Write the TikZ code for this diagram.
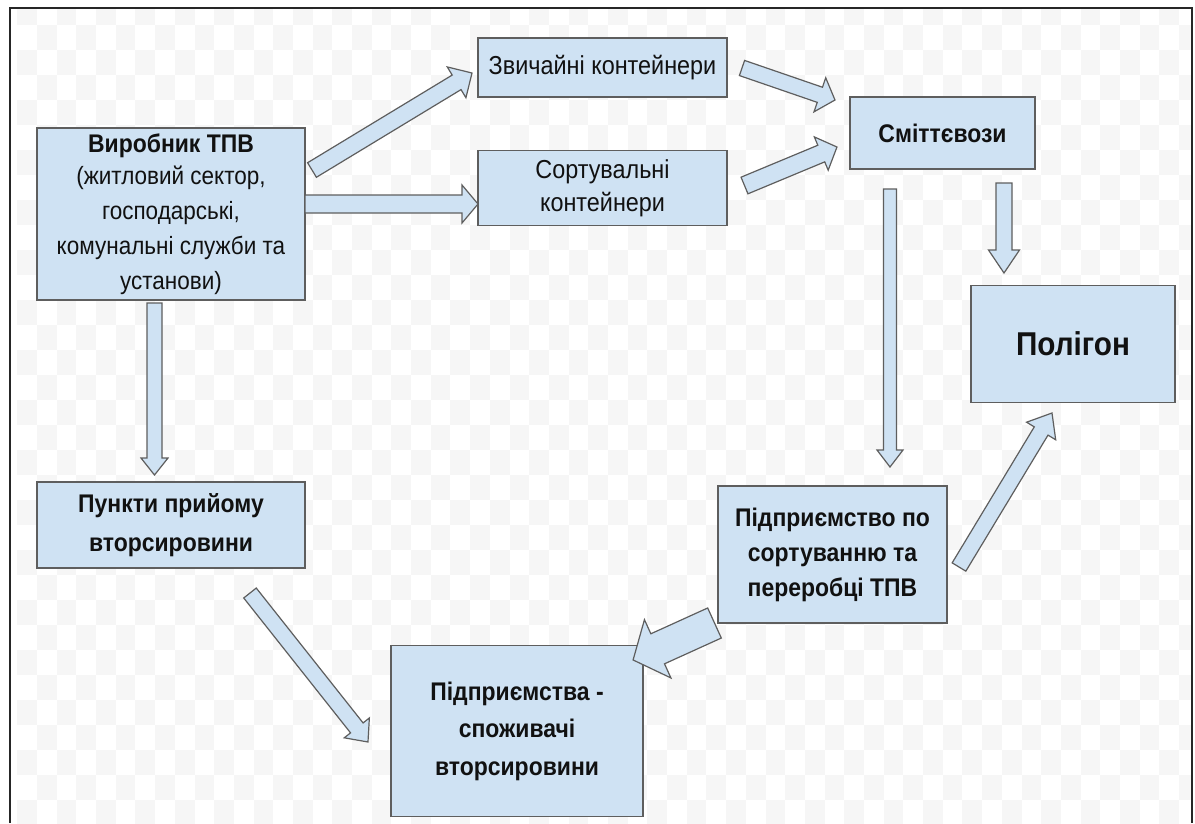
\documentclass[tikz,border=0pt]{standalone}
\usepackage{fontspec}
\setmainfont[FakeStretch=0.9]{Liberation Sans}
\usetikzlibrary{calc}
\definecolor{boxfill}{HTML}{CFE2F3}
\definecolor{boxborder}{HTML}{5E5E5E}
\definecolor{checkgray}{HTML}{F6F6F6}
\definecolor{txt}{HTML}{111111}
\tikzset{
  box/.style={draw=boxborder, fill=boxfill, line width=1.4pt, inner sep=0pt,
    align=center, text=txt},
  bold/.style={font=\fontsize{25.5}{35}\selectfont\bfseries},
  arrowsty/.style={draw=boxborder, fill=boxfill, line width=1.2pt, line join=miter},
}
% block arrow: #1 from, #2 to, #3 shaft half width, #4 head half width, #5 head length
\newcommand\blockarr[5]{%
  \path let \p1=(#1), \p2=(#2) in \pgfextra{%
    \pgfmathsetmacro\barang{atan2(\y2-\y1,\x2-\x1)}%
    \pgfmathsetmacro\barlen{veclen(\x2-\x1,\y2-\y1)}%
    \global\let\barang\barang \global\let\barlen\barlen};
  \begin{scope}[shift={(#1)},rotate=\barang]
    \draw[arrowsty] (0pt,-#3pt) -- ({\barlen pt-#5pt},-#3pt) -- ({\barlen pt-#5pt},-#4pt)
      -- (\barlen pt,0pt) -- ({\barlen pt-#5pt},#4pt) -- ({\barlen pt-#5pt},#3pt)
      -- (0pt,#3pt) -- cycle;
  \end{scope}}
\newcommand\regfont{\fontsize{25}{34}\selectfont\mdseries}
\begin{document}
\begin{tikzpicture}[x=1pt,y=-1pt]
\useasboundingbox (0,0) rectangle (1195,823);
\fill[white] (0,0) rectangle (1195,823);
% faint checkerboard background
\begin{scope}
  \clip (10,8) rectangle (1192,823);
  \foreach \i in {-1,...,60}{
    \foreach \j in {0,...,33}{
      \pgfmathtruncatemacro\chkpar{mod(\i+\j+100,2)}
      \ifnum\chkpar=1
        \fill[checkgray] ({37+19.69*\i},{25*\j}) rectangle ({37+19.69*(\i+1)},{25*(\j+1)});
      \fi
    }
  }
\end{scope}
\draw[line width=2pt, color=black!85] (10,823) -- (10,8) -- (1192,8) -- (1192,823);

% boxes
\node[box, bold, minimum width=268pt, minimum height=172pt] (vyr) at (171,214)
  {Виробник ТПВ\\[-3pt] \regfont (житловий сектор,\\ \regfont господарські,\\ \regfont комунальні служби та\\ \regfont установи)};
\node[box, minimum width=249pt, minimum height=59pt, font=\fontsize{26}{34}\selectfont] (zv) at (602.5,67.5)
  {Звичайні контейнери};
\node[box, minimum width=249pt, minimum height=75pt, font=\fontsize{26}{33}\selectfont] (sort) at (602.5,188)
  {Сортувальні\\ контейнери};
\node[box, bold, minimum width=185pt, minimum height=72pt] (smit) at (942.5,133)
  {Сміттєвози};
\node[box, minimum width=204pt, minimum height=117pt, font=\fontsize{33}{40}\selectfont\bfseries] (pol) at (1073,344)
  {Полігон};
\node[box, minimum width=268pt, minimum height=86pt, font=\fontsize{25.5}{39}\selectfont\bfseries] (punkt) at (171,525)
  {Пункти прийому\\ вторсировини};
\node[box, bold, minimum width=229pt, minimum height=137pt] (pidpr) at (832.5,554.5)
  {Підприємство по\\ сортуванню та\\ переробці ТПВ};
\node[box, minimum width=252pt, minimum height=171pt, font=\fontsize{25.5}{37.5}\selectfont\bfseries] (spoz) at (517,731)
  {Підприємства -\\ споживачі\\ вторсировини};

% arrow end points
\coordinate (a1s) at (312,170);   \coordinate (a1e) at (472,73);
\coordinate (a2s) at (305,204);   \coordinate (a2e) at (478,204);
\coordinate (a3s) at (742,68);    \coordinate (a3e) at (835,100);
\coordinate (a4s) at (744.5,185.5); \coordinate (a4e) at (837,147);
\coordinate (a5s) at (1004,183);  \coordinate (a5e) at (1004,273);
\coordinate (a6s) at (890,189);   \coordinate (a6e) at (890,467);
\coordinate (a7s) at (959,567);   \coordinate (a7e) at (1052,413);
\coordinate (a8s) at (714.5,623); \coordinate (a8e) at (633,660);
\coordinate (a9s) at (154.5,303); \coordinate (a9e) at (154.5,475);
\coordinate (a10s) at (250,593);  \coordinate (a10e) at (368,742);

\blockarr{a1s}{a1e}{8.5}{18}{18}
\blockarr{a2s}{a2e}{9}{19}{16}
\blockarr{a3s}{a3e}{8}{18}{16}
\blockarr{a4s}{a4e}{9}{18}{17}
\blockarr{a5s}{a5e}{8}{15.5}{23}
\blockarr{a6s}{a6e}{6.5}{13}{17}
\blockarr{a7s}{a7e}{8}{17}{21}
\blockarr{a8s}{a8e}{16.5}{32}{27}
\blockarr{a9s}{a9e}{7.5}{13.5}{17}
\blockarr{a10s}{a10e}{8}{16}{18}
\end{tikzpicture}
\end{document}
